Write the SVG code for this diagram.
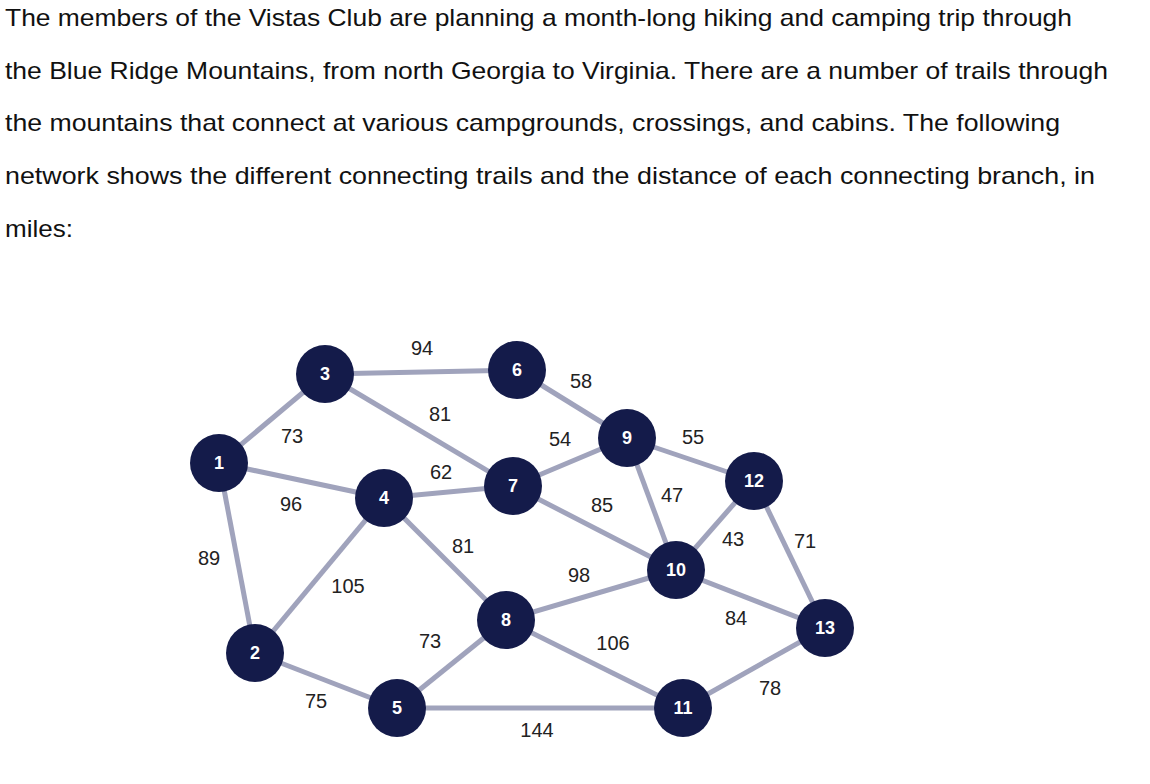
<svg xmlns="http://www.w3.org/2000/svg" width="1150" height="784" viewBox="0 0 1150 784">
<style>
.t{font-family:"Liberation Sans",Arial,sans-serif;font-size:24px;fill:#111}
.e line{stroke:#a0a3bc;stroke-width:5}
.n circle{fill:#141b4a}
.n text{font-family:"Liberation Sans",Arial,sans-serif;font-size:18px;font-weight:bold;fill:#fff;text-anchor:middle}
.l{font-family:"Liberation Sans",Arial,sans-serif;font-size:20px;fill:#222;text-anchor:middle}
</style>
<rect width="1150" height="784" fill="#fff"/>
<text class="t" x="5" y="26" textLength="1067" lengthAdjust="spacingAndGlyphs">The members of the Vistas Club are planning a month-long hiking and camping trip through</text>
<text class="t" x="5" y="79" textLength="1103" lengthAdjust="spacingAndGlyphs">the Blue Ridge Mountains, from north Georgia to Virginia. There are a number of trails through</text>
<text class="t" x="5" y="131" textLength="1055" lengthAdjust="spacingAndGlyphs">the mountains that connect at various campgrounds, crossings, and cabins. The following</text>
<text class="t" x="5" y="184" textLength="1090" lengthAdjust="spacingAndGlyphs">network shows the different connecting trails and the distance of each connecting branch, in</text>
<text class="t" x="5" y="237" textLength="68" lengthAdjust="spacingAndGlyphs">miles:</text>
<g class="e" id="connectors">
<line x1="219" y1="463" x2="325" y2="374"/>
<line x1="219" y1="463" x2="384" y2="498"/>
<line x1="219" y1="463" x2="255" y2="653"/>
<line x1="325" y1="374" x2="517" y2="370"/>
<line x1="325" y1="374" x2="513" y2="486"/>
<line x1="384" y1="498" x2="513" y2="486"/>
<line x1="384" y1="498" x2="506" y2="620"/>
<line x1="384" y1="498" x2="255" y2="653"/>
<line x1="255" y1="653" x2="397" y2="708"/>
<line x1="397" y1="708" x2="506" y2="620"/>
<line x1="397" y1="708" x2="683" y2="708"/>
<line x1="517" y1="370" x2="627" y2="438"/>
<line x1="513" y1="486" x2="627" y2="438"/>
<line x1="513" y1="486" x2="676" y2="570"/>
<line x1="627" y1="438" x2="676" y2="570"/>
<line x1="627" y1="438" x2="754" y2="481"/>
<line x1="754" y1="481" x2="676" y2="570"/>
<line x1="754" y1="481" x2="825" y2="628"/>
<line x1="676" y1="570" x2="506" y2="620"/>
<line x1="676" y1="570" x2="825" y2="628"/>
<line x1="506" y1="620" x2="683" y2="708"/>
<line x1="683" y1="708" x2="825" y2="628"/>
</g>
<g id="labels">
<text class="l" x="292" y="443">73</text>
<text class="l" x="291" y="511">96</text>
<text class="l" x="209" y="565">89</text>
<text class="l" x="422" y="355">94</text>
<text class="l" x="440" y="421">81</text>
<text class="l" x="441" y="479">62</text>
<text class="l" x="463" y="553">81</text>
<text class="l" x="348" y="593">105</text>
<text class="l" x="316" y="708">75</text>
<text class="l" x="430" y="648">73</text>
<text class="l" x="537" y="737">144</text>
<text class="l" x="581" y="388">58</text>
<text class="l" x="560" y="446">54</text>
<text class="l" x="602" y="512">85</text>
<text class="l" x="672" y="502">47</text>
<text class="l" x="693" y="444">55</text>
<text class="l" x="733" y="546">43</text>
<text class="l" x="805" y="548">71</text>
<text class="l" x="579" y="582">98</text>
<text class="l" x="736" y="625">84</text>
<text class="l" x="613" y="650">106</text>
<text class="l" x="770" y="695">78</text>
</g>
<g class="n" id="n1"><circle cx="219" cy="463" r="29"/><text x="219" y="469">1</text></g>
<g class="n" id="n2"><circle cx="255" cy="653" r="29"/><text x="255" y="659">2</text></g>
<g class="n" id="n3"><circle cx="325" cy="374" r="29"/><text x="325" y="380">3</text></g>
<g class="n" id="n4"><circle cx="384" cy="498" r="29"/><text x="384" y="504">4</text></g>
<g class="n" id="n5"><circle cx="397" cy="708" r="29"/><text x="397" y="714">5</text></g>
<g class="n" id="n6"><circle cx="517" cy="370" r="29"/><text x="517" y="376">6</text></g>
<g class="n" id="n7"><circle cx="513" cy="486" r="29"/><text x="513" y="492">7</text></g>
<g class="n" id="n8"><circle cx="506" cy="620" r="29"/><text x="506" y="626">8</text></g>
<g class="n" id="n9"><circle cx="627" cy="438" r="29"/><text x="627" y="444">9</text></g>
<g class="n" id="n10"><circle cx="676" cy="570" r="29"/><text x="676" y="576">10</text></g>
<g class="n" id="n11"><circle cx="683" cy="708" r="29"/><text x="683" y="714">11</text></g>
<g class="n" id="n12"><circle cx="754" cy="481" r="29"/><text x="754" y="487">12</text></g>
<g class="n" id="n13"><circle cx="825" cy="628" r="29"/><text x="825" y="634">13</text></g>
</svg>
